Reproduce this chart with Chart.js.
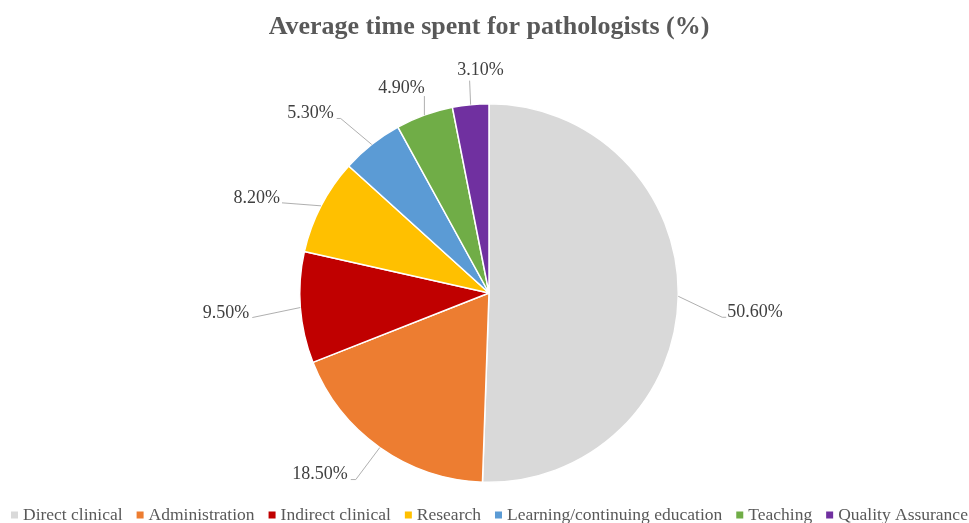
<!DOCTYPE html>
<html>
<head>
<meta charset="utf-8">
<script src="https://cdn.jsdelivr.net/npm/chart.js@4.4.1/dist/chart.umd.min.js"></script>
<style>
  html, body { margin: 0; padding: 0; background: #fff; }
  #wrap { width: 969px; height: 523px; }
</style>
</head>
<body>
<div id="wrap"><canvas id="myChart"></canvas></div>
<script>
// chart data
var categories = ['Direct clinical', 'Administration', 'Indirect clinical', 'Research',
    'Learning/continuing education', 'Teaching', 'Quality Assurance'];
var timeShare = [50.6, 18.5, 9.5, 8.2, 5.3, 4.9, 3.1];
var valueLabels = ['50.60%', '18.50%', '9.50%', '8.20%', '5.30%', '4.90%', '3.10%'];
var sliceColors = ['#d9d9d9', '#ed7d31', '#c00000', '#ffc000', '#5b9bd5', '#70ad47', '#7030a0'];

var serif = "'Liberation Serif', 'DejaVu Serif', serif";

// where each data label sits, relative to the slice edge point (excel "best fit" look)
// bend = elbow of leader line, tail = short horizontal piece, off = text offset from tail end
var labelLayout = [
    {bend: [44, 21], tail: 4, off: [1, -5], align: 'left'},
    {bend: [-24, 32], tail: -5, off: [-3, -5], align: 'right'},
    {bend: [-48, 10], tail: 0, off: [-3, -4], align: 'right'},
    {bend: [-39, -3], tail: 0, off: [-2, -5], align: 'right'},
    {bend: [-31, -26], tail: -4, off: [-3, -5], align: 'right'},
    {bend: [0, -19], tail: 0, off: [-23, -8], align: 'center'},
    {bend: [-1, -24], tail: 0, off: [11, -10], align: 'center'}
];

var pieLabels = {
    id: 'pieLabels',
    afterDatasetsDraw: function(chart) {
        var ctx = chart.ctx;
        var arcs = chart.getDatasetMeta(0).data;
        ctx.save();
        for (let i = 0; i < arcs.length; i++) {
            var a = arcs[i];
            var mid = (a.startAngle + a.endAngle) / 2;
            var ex = a.x + Math.cos(mid) * a.outerRadius;
            var ey = a.y + Math.sin(mid) * a.outerRadius;
            var L = labelLayout[i];
            var bx = ex + L.bend[0], by = ey + L.bend[1];
            var tx = bx + L.tail;
            ctx.strokeStyle = '#a6a6a6';
            ctx.lineWidth = 0.9;
            ctx.beginPath();
            ctx.moveTo(ex, ey);
            ctx.lineTo(bx, by);
            if (L.tail) ctx.lineTo(tx, by);
            ctx.stroke();
            ctx.fillStyle = '#404040';
            ctx.font = '18px ' + serif;
            ctx.textAlign = L.align;
            ctx.textBaseline = 'middle';
            ctx.fillText(valueLabels[i], tx + L.off[0], by + L.off[1]);
        }
        ctx.restore();
    }
};

var bottomLegend = {
    id: 'bottomLegend',
    afterDraw: function(chart) {
        var ctx = chart.ctx;
        ctx.save();
        ctx.font = '17.5px ' + serif;
        ctx.textBaseline = 'middle';
        ctx.textAlign = 'left';
        var x = 11, y = 515;
        for (let i = 0; i < categories.length; i++) {
            ctx.fillStyle = sliceColors[i];
            ctx.fillRect(x, y - 3.5, 7, 7);
            ctx.fillStyle = '#595959';
            ctx.fillText(categories[i], x + 12, y);
            x += 12 + ctx.measureText(categories[i]).width + 14;
        }
        ctx.restore();
    }
};

var ctx = document.getElementById('myChart').getContext('2d');
var chart = new Chart(ctx, {
    type: 'pie',
    data: {
        labels: categories,
        datasets: [{
            data: timeShare,
            backgroundColor: sliceColors,
            borderColor: '#ffffff',
            borderWidth: 1.5
        }]
    },
    options: {
        responsive: true,
        maintainAspectRatio: false,
        animation: false,
        layout: { padding: { top: 0, bottom: 40, left: 9, right: 0 } },
        plugins: {
            legend: { display: false },
            tooltip: { enabled: false },
            title: {
                display: true,
                text: 'Average time spent for pathologists (%)',
                color: '#595959',
                font: { family: serif, size: 26, weight: 'bold' },
                padding: { top: 11.4, bottom: 60.4 }
            }
        }
    },
    plugins: [pieLabels, bottomLegend]
});
</script>
</body>
</html>
